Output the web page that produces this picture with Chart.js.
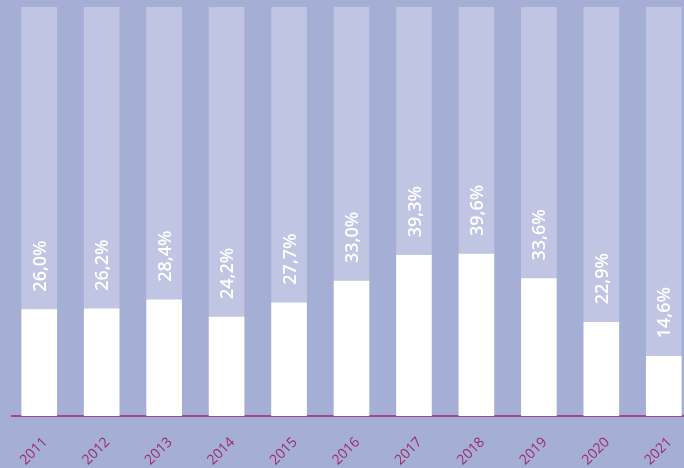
<!DOCTYPE html>
<html>
<head>
<meta charset="utf-8">
<script src="https://cdn.jsdelivr.net/npm/chart.js@4.4.1/dist/chart.umd.min.js"></script>
<style>
    html, body { margin: 0; padding: 0; background: #a5aed4; overflow: hidden; }
    #wrap { width: 695px; height: 468px; position: relative; }
</style>
</head>
<body>
<div id="wrap"><canvas id="barChart"></canvas></div>
<script>
// dados
const anos = ['2011', '2012', '2013', '2014', '2015', '2016', '2017', '2018', '2019', '2020', '2021'];
const valores = [26.0, 26.2, 28.4, 24.2, 27.7, 33.0, 39.3, 39.6, 33.6, 22.9, 14.6];
const restante = valores.map(v => 100 - v);

const corClara = '#bfc5e2';
const corMagenta = '#9d2a6d';

const formatPct = (v) => v.toFixed(1).replace('.', ',') + '%';

// linha de base atrás das barras
const baseLine = {
    id: 'baseLine',
    beforeDatasetsDraw(chart) {
        const { ctx, chartArea } = chart;
        ctx.save();
        ctx.strokeStyle = corMagenta;
        ctx.lineWidth = 1.5;
        ctx.beginPath();
        ctx.moveTo(11, chartArea.bottom);
        ctx.lineTo(chartArea.right, chartArea.bottom);
        ctx.stroke();
        ctx.restore();
    }
};

// rótulos verticais acima da barra branca
const rotulos = {
    id: 'rotulos',
    afterDatasetsDraw(chart) {
        const { ctx } = chart;
        const meta = chart.getDatasetMeta(0);
        ctx.save();
        ctx.fillStyle = '#ffffff';
        ctx.font = '600 18px "Open Sans", sans-serif';
        ctx.textAlign = 'left';
        ctx.textBaseline = 'middle';
        meta.data.forEach((bar, i) => {
            ctx.save();
            ctx.translate(bar.x + 1.5, bar.y - 18);
            ctx.rotate(-Math.PI / 2);
            ctx.fillText(formatPct(valores[i]), 0, 0);
            ctx.restore();
        });
        ctx.restore();
    }
};

const ctx = document.getElementById('barChart').getContext('2d');
new Chart(ctx, {
    type: 'bar',
    data: {
        labels: anos,
        datasets: [{
            data: valores,
            backgroundColor: '#ffffff',
            borderWidth: 0,
            barThickness: 35
        }, {
            data: restante,
            backgroundColor: corClara,
            borderWidth: 0,
            barThickness: 35
        }]
    },
    options: {
        responsive: true,
        maintainAspectRatio: false,
        animation: false,
        layout: { padding: { top: 7, left: 8, right: 0, bottom: 0 } },
        plugins: {
            legend: { display: false },
            tooltip: { enabled: false }
        },
        scales: {
            x: {
                stacked: true,
                grid: { display: false },
                border: { display: false },
                ticks: {
                    color: corMagenta,
                    font: { family: '"Open Sans", sans-serif', size: 14, weight: 500 },
                    minRotation: 45,
                    maxRotation: 45,
                    padding: 10,
                    labelOffset: 6
                },
                afterFit(scale) { scale.height = 52; }
            },
            y: {
                stacked: true,
                display: false,
                min: 0,
                max: 100
            }
        }
    },
    plugins: [baseLine, rotulos]
});
</script>
</body>
</html>
